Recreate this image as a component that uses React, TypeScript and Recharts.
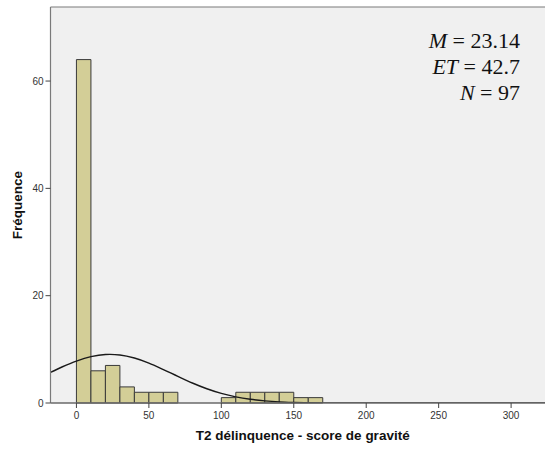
import React from 'react';
import {
  ComposedChart,
  Line,
  XAxis,
  YAxis,
  CartesianGrid,
  ReferenceArea,
  ReferenceLine,
  Label,
} from 'recharts';

// Histogram bins (lower bound) and their frequencies
const binStarts = [0, 10, 20, 30, 40, 50, 60, 100, 110, 120, 130, 140, 150, 160];
const binWidth = 10;
const binCounts = [64, 6, 7, 3, 2, 2, 2, 1, 2, 2, 2, 2, 1, 1];

// Normal curve
const curveX = [-17.9, -10, 0, 10, 20, 23.14, 30, 40, 50, 60, 70, 80, 90, 100, 110, 120, 130, 140, 150, 160, 170, 180, 200, 250, 300, 330.3];
const curveY = [5.71, 6.71, 7.82, 8.64, 9.04, 9.06, 8.95, 8.38, 7.44, 6.24, 4.96, 3.73, 2.66, 1.79, 1.14, 0.69, 0.4, 0.21, 0.11, 0.05, 0.02, 0.01, 0, 0, 0, 0];

const xTicks = [0, 50, 100, 150, 200, 250, 300];
const yTicks = [0, 20, 40, 60];
const xDomain = [-17.9, 330.3];
const yDomain = [0, 73.8];

const statNames = ['M', 'ET', 'N'];
const statValues = ['23.14', '42.7', '97'];

const xTitle = 'T2 délinquence - score de gravité';
const yTitle = 'Fréquence';

const curveData = curveX.map((x, i) => ({ x, y: curveY[i] }));

const sans = '"Liberation Sans", Arial, sans-serif';
const serif = '"Liberation Serif", "Times New Roman", serif';
const borderColor = '#7a7a7a';

export default function App() {
  return (
    <div
      style={{
        position: 'absolute',
        left: 0,
        top: 0,
        width: 545,
        height: 449,
        overflow: 'hidden',
        background: '#ffffff',
      }}
    >
      <ComposedChart
        width={560}
        height={449}
        data={curveData}
        margin={{ top: 7, right: 5, bottom: 0, left: 0.5 }}
      >
        <CartesianGrid fill="#F0F0F0" horizontal={false} vertical={false} />
        <XAxis
          dataKey="x"
          type="number"
          domain={xDomain}
          allowDataOverflow
          ticks={xTicks}
          height={46}
          tickSize={5}
          tickMargin={4}
          stroke={borderColor}
          axisLine={{ stroke: '#6a6a6a', strokeWidth: 1.3 }}
          tickLine={{ stroke: '#444' }}
          tick={{ fontSize: 10, fill: '#333', fontFamily: sans }}
        >
          <Label
            value={xTitle}
            position="insideBottom"
            offset={9}
            style={{ fontSize: 13.5, fontWeight: 'bold', fill: '#111', fontFamily: sans }}
          />
        </XAxis>
        <YAxis
          type="number"
          domain={yDomain}
          allowDataOverflow
          ticks={yTicks}
          width={50}
          tickSize={5}
          tickMargin={2}
          axisLine={{ stroke: borderColor, strokeWidth: 1.2 }}
          tickLine={{ stroke: '#444' }}
          tick={{ fontSize: 10, fill: '#333', fontFamily: sans }}
        >
          <Label
            value={yTitle}
            angle={-90}
            position="insideLeft"
            offset={17}
            style={{ fontSize: 13.5, fontWeight: 'bold', fill: '#111', fontFamily: sans, textAnchor: 'middle' }}
          />
        </YAxis>
        <ReferenceLine y={yDomain[1]} stroke={borderColor} strokeWidth={1.2} />
        {binStarts.map((start, i) => (
          <ReferenceArea
            key={start}
            x1={start}
            x2={start + binWidth}
            y1={0}
            y2={binCounts[i]}
            fill="#D3CE97"
            fillOpacity={1}
            stroke="#3a3a3a"
            strokeWidth={1}
            strokeOpacity={1}
          />
        ))}
        <Line
          type="monotone"
          dataKey="y"
          stroke="#1a1a1a"
          strokeWidth={1.4}
          dot={false}
          activeDot={false}
          isAnimationActive={false}
        />
      </ComposedChart>
      {statNames.map((name, i) => (
        <div
          key={name}
          style={{
            position: 'absolute',
            right: 25,
            top: 27.7 + i * 26.3,
            fontFamily: serif,
            fontSize: 22,
            lineHeight: '26.3px',
            color: '#111',
            whiteSpace: 'nowrap',
            textAlign: 'right',
          }}
        >
          <i>{name}</i> = {statValues[i]}
        </div>
      ))}
    </div>
  );
}
